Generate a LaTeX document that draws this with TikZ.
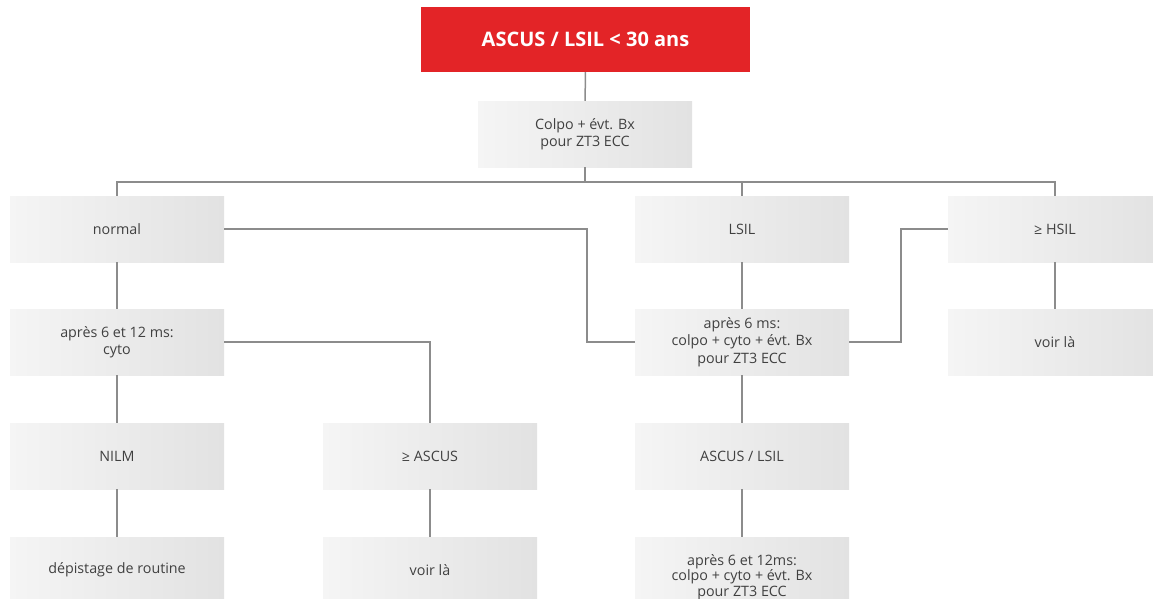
\documentclass[tikz,border=0pt]{standalone}
\usepackage{fontspec}
\setmainfont{Open Sans}
\definecolor{redhead}{HTML}{E32427}
\definecolor{boxL}{HTML}{F5F5F5}
\definecolor{boxR}{HTML}{E2E2E2}
\definecolor{txt}{HTML}{404040}
\definecolor{conn}{HTML}{8C8C8C}
\begin{document}
\begin{tikzpicture}[x=1pt,y=-1pt,
  box/.style={minimum width=214pt, minimum height=66pt, inner sep=0pt,
    left color=boxL, right color=boxR, draw=none, text=txt,
    font=\fontsize{14.3}{17.5}\selectfont, align=center},
  head/.style={fill=redhead, text=white, minimum width=329pt, minimum height=65pt,
    inner sep=0pt, font=\bfseries\fontsize{20}{24}\selectfont},
  conline/.style={draw=conn, line width=1.5pt}]
\useasboundingbox (0,0) rectangle (1153,598);
\clip (0,0) rectangle (1153,598);
\node[head] (head) at (585.5,39.5) {ASCUS / LSIL < 30 ans};
\node[box] (colpo) at (585,134) {Colpo + évt. Bx\\pour ZT3 ECC};
\node[box] (normal) at (117,229) {normal};
\node[box] (lsil) at (742,229) {LSIL};
\node[box] (hsil) at (1055,229) {≥ HSIL};
\node[box] (cyto) at (117,342) {après 6 et 12 ms:\\cyto};
\node[box] (apres6) at (742,342) {après 6 ms:\\colpo + cyto + évt. Bx\\pour ZT3 ECC};
\node[box] (voir1) at (1055,342) {voir là};
\node[box] (nilm) at (117,456) {NILM};
\node[box] (ascus) at (430,456) {≥ ASCUS};
\node[box] (asclsil) at (742,456) {ASCUS / LSIL};
\node[box] (depist) at (117,570) {dépistage de routine};
\node[box, minimum height=80pt, font=\fontsize{14.3}{15.5}\selectfont] (apres612) at (742,577) {\raisebox{5pt}{\parbox{200pt}{\centering après 6 et 12ms:\\colpo + cyto + évt. Bx\\pour ZT3 ECC}}};
\node[box] (voir2) at (430,570) {voir là};
\coordinate (bus) at (585,182);
\coordinate (j1) at (587,229);
\coordinate (j2) at (901,229);
\begin{scope}[conline]
\draw (head) -- (colpo);
\draw (colpo) -- (bus);
\draw (normal.north) |- (bus) -| (hsil.north);
\draw (lsil.north) -- (lsil.north |- bus);
\draw (normal.east) -- (j1) |- (apres6.west);
\draw (hsil.west) -- (j2) |- (apres6.east);
\draw (cyto.east) -| (ascus.north);
\draw (normal) -- (cyto);
\draw (cyto) -- (nilm);
\draw (nilm) -- (depist);
\draw (ascus) -- (voir2);
\draw (lsil) -- (apres6);
\draw (apres6) -- (asclsil);
\draw (asclsil) -- (apres612);
\draw (hsil) -- (voir1);
\end{scope}
\end{tikzpicture}
\end{document}
